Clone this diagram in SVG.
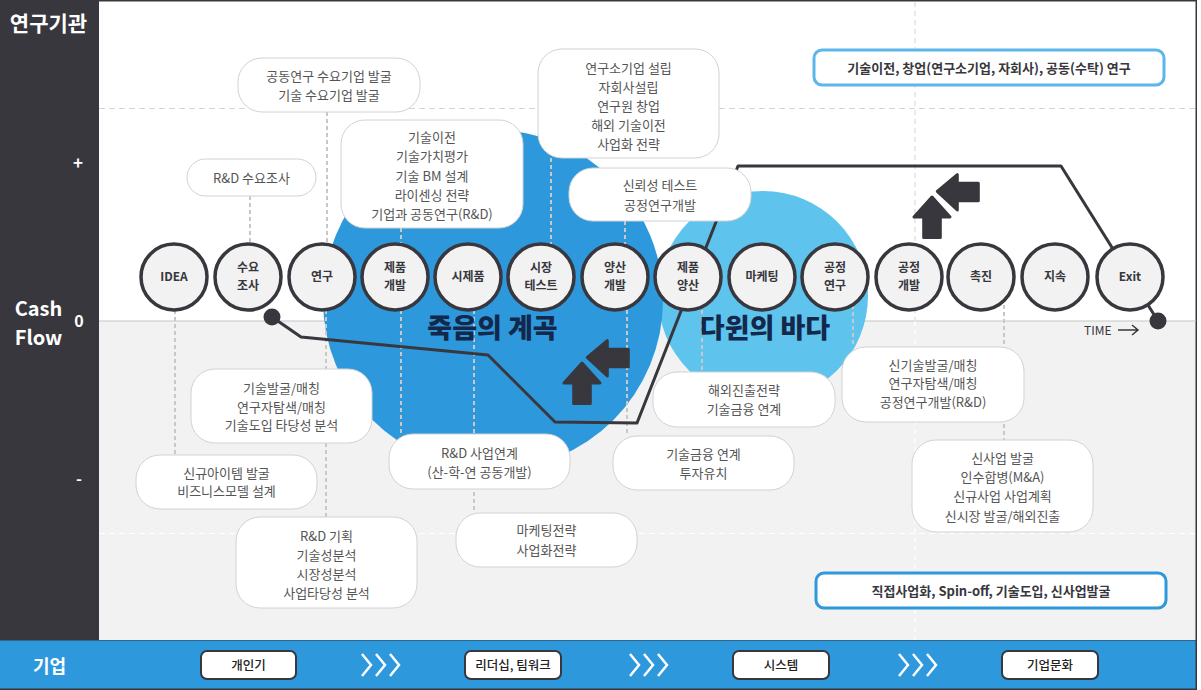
<svg xmlns="http://www.w3.org/2000/svg" width="1201" height="690" viewBox="0 0 1201 690">
<defs>
<style>
text{font-family:"Noto Sans CJK KR","Noto Sans",sans-serif}
.box rect{fill:#fff;stroke:#d2d2d2;stroke-width:1}
.box text{font-size:13px;fill:#555;text-anchor:middle}
.node circle{fill:#f2f2f2;stroke:#38373d;stroke-width:3.5}
.node text{font-size:12px;font-weight:700;fill:#38373d;text-anchor:middle}
.dash{stroke:#c8c8c8;stroke-width:2;stroke-dasharray:4 3;fill:none}
.side{fill:#fff;font-weight:700;text-anchor:middle}
.pill rect{fill:#fff;stroke:#38373d;stroke-width:2}
.pill text{font-size:12.5px;font-weight:500;fill:#222;text-anchor:middle}
.chev{fill:none;stroke:#fff;stroke-width:2.5;stroke-linejoin:miter}
.big{font-size:27px;font-weight:900;fill:#13284a;text-anchor:middle}
.key rect{fill:#fff;stroke-width:3}
.key text{font-size:13px;font-weight:700;fill:#38373d;text-anchor:middle}
</style>
<g id="arrows">
<path d="M0,0 L18,20 L8.3,20 L8.3,40.5 L-8.3,40.5 L-8.3,20 L-18,20 Z" fill="#38373d" stroke="#38373d" stroke-width="3" stroke-linejoin="round"/>
<path d="M5.3,-5.7 L25.3,-22.3 L25.3,-13.7 L46.3,-13.7 L46.3,3.7 L25.3,3.7 L25.3,13 Z" fill="#38373d" stroke="#38373d" stroke-width="3" stroke-linejoin="round"/>
</g>
</defs>

<!-- frame and backgrounds -->
<rect x="0" y="0" width="1197" height="690" fill="#38373d"/>
<rect x="1197" y="0" width="4" height="690" fill="#fff"/>
<rect x="99" y="1.5" width="1096.5" height="319.5" fill="#fff"/>
<rect x="99" y="321" width="1096.5" height="319" fill="#f2f2f2"/>
<line x1="99" y1="321" x2="1196" y2="321" stroke="#c6c6c6" stroke-width="1.2"/>
<rect x="0" y="640.5" width="1195.5" height="48" fill="#2d98dc"/>

<!-- grid dashes -->
<line x1="99" y1="108.5" x2="1196" y2="108.5" stroke="#d5d5d5" stroke-width="1.2" stroke-dasharray="6 4"/>
<line x1="99" y1="533.5" x2="1196" y2="533.5" stroke="#fff" stroke-width="1.2" stroke-dasharray="6 4"/>
<line x1="915" y1="2" x2="915" y2="321" stroke="#dcdcdc" stroke-width="1.2" stroke-dasharray="5 4"/>
<line x1="915" y1="321" x2="915" y2="640" stroke="#fff" stroke-width="1.2" stroke-dasharray="5 4"/>

<!-- side labels -->
<text class="side" x="48.5" y="31" font-size="21">연구기관</text>
<text class="side" x="78" y="169" font-size="17">+</text>
<text class="side" x="38.5" y="316" font-size="20">Cash</text>
<text class="side" x="38.5" y="345" font-size="20">Flow</text>
<text class="side" x="79" y="327" font-size="16">0</text>
<text class="side" x="79" y="485" font-size="16">-</text>
<text class="side" x="49.5" y="673" font-size="18">기업</text>

<!-- zones -->
<circle cx="763" cy="296" r="105" fill="#5ec4ee"/>
<circle cx="493" cy="300" r="170" fill="#2d98dc"/>

<!-- connectors -->
<g id="connectors">
<line class="dash" x1="175" y1="310" x2="175" y2="455"/>
<line class="dash" x1="250" y1="196" x2="250" y2="243"/>
<line class="dash" x1="327" y1="112" x2="327" y2="243"/>
<line class="dash" x1="326" y1="310" x2="326" y2="517"/>
<line class="dash" x1="401" y1="228" x2="401" y2="243"/>
<line class="dash" x1="401" y1="310" x2="401" y2="434"/>
<line class="dash" x1="474" y1="310" x2="474" y2="513"/>
<line class="dash" x1="551" y1="158" x2="551" y2="244"/>
<line class="dash" x1="625" y1="221" x2="625" y2="244"/>
<line class="dash" x1="627" y1="310" x2="627" y2="436"/>
<line class="dash" x1="702" y1="310" x2="702" y2="372"/>
<line class="dash" x1="853" y1="305" x2="853" y2="347"/>
<line class="dash" x1="1004" y1="305" x2="1004" y2="440"/>
<path d="M272,317 L301,337 L488,355 L555,422 L637,423 L738,166 L1061,166 L1158,321" fill="none" stroke="#38373d" stroke-width="3" stroke-linejoin="round"/>
<circle cx="272" cy="317" r="8.5" fill="#38373d"/>
<circle cx="1158" cy="321" r="8.5" fill="#38373d"/>
</g>

<text class="big" x="492.5" y="338">죽음의 계곡</text>
<text class="big" x="765" y="338">다윈의 바다</text>

<use href="#arrows" x="582" y="363"/>
<use href="#arrows" x="932" y="197"/>

<!-- boxes -->
<g id="box1" class="box"><rect x="238" y="58" width="182" height="54" rx="24"/><text x="329" y="81">공동연구 수요기업 발굴</text><text x="329" y="100">기술 수요기업 발굴</text></g>
<g id="box2" class="box"><rect x="187" y="159" width="129" height="37" rx="18.5"/><text x="251.5" y="183">R&amp;D 수요조사</text></g>
<g id="box3" class="box"><rect x="341" y="120" width="182" height="108" rx="24"/><text x="432" y="142">기술이전</text><text x="432" y="161">기술가치평가</text><text x="432" y="180.5">기술 BM 설계</text><text x="432" y="199.5">라이센싱 전략</text><text x="432" y="218.5">기업과 공동연구(R&amp;D)</text></g>
<g id="box4" class="box"><rect x="538" y="49" width="181" height="109" rx="24"/><text x="628.5" y="73">연구소기업 설립</text><text x="628.5" y="92">자회사설립</text><text x="628.5" y="111">연구원 창업</text><text x="628.5" y="130">해외 기술이전</text><text x="628.5" y="149">사업화 전략</text></g>
<g id="box5" class="box"><rect x="569" y="168" width="182" height="53" rx="24"/><text x="660" y="190">신뢰성 테스트</text><text x="660" y="209.5">공정연구개발</text></g>
<g id="box6" class="box"><rect x="191" y="369" width="181" height="74" rx="24"/><text x="281.5" y="393">기술발굴/매칭</text><text x="281.5" y="411.5">연구자탐색/매칭</text><text x="281.5" y="430">기술도입 타당성 분석</text></g>
<g id="box7" class="box"><rect x="136" y="455" width="181" height="54" rx="24"/><text x="226.5" y="477.5">신규아이템 발굴</text><text x="226.5" y="496">비즈니스모델 설계</text></g>
<g id="box8" class="box"><rect x="236" y="517" width="181" height="91" rx="24"/><text x="326.5" y="540.5">R&amp;D 기획</text><text x="326.5" y="559.5">기술성분석</text><text x="326.5" y="578.5">시장성분석</text><text x="326.5" y="597.5">사업타당성 분석</text></g>
<g id="box9" class="box"><rect x="389" y="434" width="181" height="55" rx="24"/><text x="479.5" y="458">R&amp;D 사업연계</text><text x="479.5" y="477">(산-학-연 공동개발)</text></g>
<g id="box10" class="box"><rect x="456" y="513" width="181" height="54" rx="24"/><text x="546.5" y="535">마케팅전략</text><text x="546.5" y="554.5">사업화전략</text></g>
<g id="box11" class="box"><rect x="653" y="372" width="182" height="55" rx="24"/><text x="744" y="394.5">해외진출전략</text><text x="744" y="413.5">기술금융 연계</text></g>
<g id="box12" class="box"><rect x="613" y="436" width="181" height="54" rx="24"/><text x="703.5" y="459">기술금융 연계</text><text x="703.5" y="478">투자유치</text></g>
<g id="box13" class="box"><rect x="842" y="347" width="182" height="75" rx="24"/><text x="933" y="369.5">신기술발굴/매칭</text><text x="933" y="388">연구자탐색/매칭</text><text x="933" y="407">공정연구개발(R&amp;D)</text></g>
<g id="box14" class="box"><rect x="912" y="440" width="181" height="92" rx="24"/><text x="1002.5" y="463">신사업 발굴</text><text x="1002.5" y="482">인수합병(M&amp;A)</text><text x="1002.5" y="500.5">신규사업 사업계획</text><text x="1002.5" y="520.5">신시장 발굴/해외진출</text></g>

<g id="key-top" class="key"><rect x="814" y="50" width="350" height="35" rx="8" stroke="#5cb6ec"/><text x="989" y="73">기술이전, 창업(연구소기업, 자회사), 공동(수탁) 연구</text></g>
<g id="key-bottom" class="key"><rect x="816" y="573" width="350" height="35" rx="8" stroke="#2d98dc"/><text x="991" y="595.5">직접사업화, Spin-off, 기술도입, 신사업발굴</text></g>

<!-- nodes -->
<g id="n-idea" class="node"><circle cx="174" cy="277" r="33"/><text x="174" y="281">IDEA</text></g>
<g id="n-survey" class="node"><circle cx="248" cy="277" r="33"/><text x="248" y="272">수요</text><text x="248" y="290">조사</text></g>
<g id="n-research" class="node"><circle cx="322" cy="277" r="33"/><text x="322" y="281">연구</text></g>
<g id="n-proddev" class="node"><circle cx="395" cy="277" r="33"/><text x="395" y="272">제품</text><text x="395" y="290">개발</text></g>
<g id="n-proto" class="node"><circle cx="468" cy="277" r="33"/><text x="468" y="281">시제품</text></g>
<g id="n-market-test" class="node"><circle cx="541" cy="277" r="33"/><text x="541" y="272">시장</text><text x="541" y="290">테스트</text></g>
<g id="n-massdev" class="node"><circle cx="615" cy="277" r="33"/><text x="615" y="272">양산</text><text x="615" y="290">개발</text></g>
<g id="n-massprod" class="node"><circle cx="688" cy="277" r="33"/><text x="688" y="272">제품</text><text x="688" y="290">양산</text></g>
<g id="n-marketing" class="node"><circle cx="762" cy="277" r="33"/><text x="762" y="281">마케팅</text></g>
<g id="n-procres" class="node"><circle cx="835" cy="277" r="33"/><text x="835" y="272">공정</text><text x="835" y="290">연구</text></g>
<g id="n-procdev" class="node"><circle cx="909" cy="277" r="33"/><text x="909" y="272">공정</text><text x="909" y="290">개발</text></g>
<g id="n-promo" class="node"><circle cx="981" cy="277" r="33"/><text x="981" y="281">촉진</text></g>
<g id="n-sustain" class="node"><circle cx="1055" cy="277" r="33"/><text x="1055" y="281">지속</text></g>
<g id="n-exit" class="node"><circle cx="1130" cy="277" r="33"/><text x="1130" y="281">Exit</text></g>

<!-- time label -->
<text x="1084" y="334.5" font-size="12" fill="#38373d">TIME</text>
<path d="M1118,330 H1138 M1132,325 L1138,330 L1132,335" fill="none" stroke="#38373d" stroke-width="1.5"/>

<!-- company band -->
<g id="p1" class="pill"><rect x="201" y="651" width="95" height="28" rx="6"/><text x="248.5" y="669.5">개인기</text></g>
<g id="p2" class="pill"><rect x="465" y="651" width="96" height="28" rx="6"/><text x="513" y="669.5">리더십, 팀워크</text></g>
<g id="p3" class="pill"><rect x="733" y="651" width="96" height="28" rx="6"/><text x="781" y="669.5">시스템</text></g>
<g id="p4" class="pill"><rect x="1002" y="651" width="96" height="28" rx="6"/><text x="1050" y="669.5">기업문화</text></g>
<path class="chev" d="M362,654 L371,665 L362,676 M376,654 L385,665 L376,676 M390,654 L399,665 L390,676"/>
<path class="chev" d="M630,654 L639,665 L630,676 M644,654 L653,665 L644,676 M658,654 L667,665 L658,676"/>
<path class="chev" d="M899,654 L908,665 L899,676 M913,654 L922,665 L913,676 M927,654 L936,665 L927,676"/>
</svg>
